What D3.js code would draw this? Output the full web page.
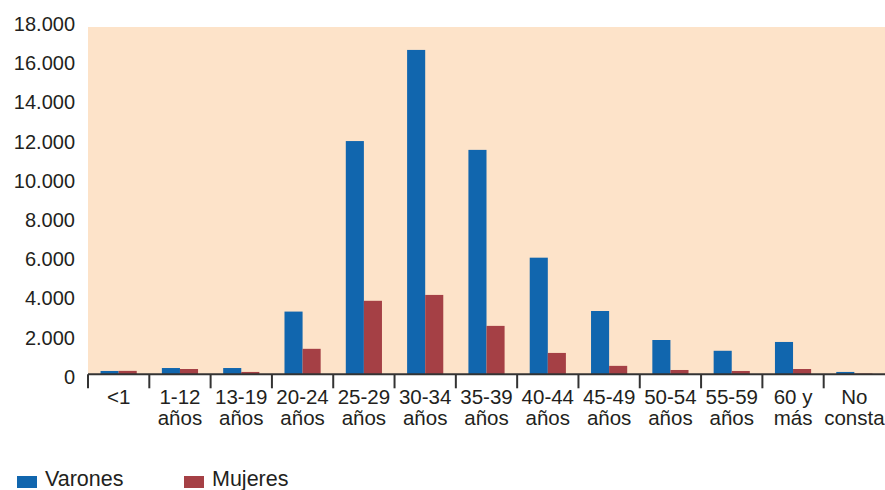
<!DOCTYPE html>
<html><head><meta charset="utf-8">
<script src="https://cdn.jsdelivr.net/npm/d3@7"></script>
<style>
body{margin:0;background:#fff;}
svg{display:block;}
</style></head>
<body>
<svg id="chart" width="885" height="490"></svg>
<script>
const categories = ["<1","1-12|años","13-19|años","20-24|años","25-29|años","30-34|años","35-39|años","40-44|años","45-49|años","50-54|años","55-59|años","60 y|más","No|consta"];
const varones = [170, 320, 320, 3200, 11900, 16550, 11450, 5950, 3230, 1750, 1200, 1650, 120];
const mujeres = [175, 270, 120, 1300, 3750, 4050, 2470, 1090, 430, 220, 170, 270, 40];
const seriesNames = ["Varones","Mujeres"];
const seriesColors = ["#1166ae","#a54045"];
const yTicks = [0,2000,4000,6000,8000,10000,12000,14000,16000,18000];

(function(){
const svg = d3.select("#chart");
const left = 88, right = 885, base = 374.3, yTop = 21.5;
const plotTop = 27;

const x = d3.scaleBand().domain(categories).range([left, right]).paddingInner(0.41).paddingOuter(0.205);
const xb = d3.scaleBand().domain(categories).range([left, right]);
const xs = d3.scaleBand().domain(seriesNames).range([0, x.bandwidth()]);
const y = d3.scaleLinear().domain([0, 18000]).range([base, yTop]);

// background
svg.append("rect").attr("x", left).attr("y", plotTop).attr("width", right - left).attr("height", base - plotTop).attr("fill", "#fde3c9");

// bars
const data = [varones, mujeres];
data.forEach((vals, si) => {
  svg.append("g").selectAll("rect").data(vals).join("rect")
    .attr("x", (d, i) => x(categories[i]) + xs(seriesNames[si]))
    .attr("width", xs.bandwidth())
    .attr("y", d => y(d))
    .attr("height", d => base - y(d))
    .attr("fill", seriesColors[si]);
});

// y axis labels
const fmt = d => d3.format(",")(d).replace(/,/g, ".");
svg.append("g").selectAll("text").data(yTicks).join("text")
  .attr("x", 75).attr("y", d => y(d) + 2.4)
  .attr("text-anchor", "end").attr("dominant-baseline", "central")
  .attr("font-family", "Liberation Sans, Arial, sans-serif").attr("font-size", 20)
  .attr("fill", "#231f20").text(fmt);

// x axis
const xAxis = svg.append("g").attr("transform", `translate(0,${base})`)
  .call(d3.axisBottom(xb).tickSize(0).tickFormat(""));
xAxis.select(".domain").attr("stroke", "#333").attr("stroke-width", 2).attr("d", `M${left},0H${right}`);
xAxis.selectAll(".tick").remove();
svg.append("g").selectAll("line").data(categories).join("line")
  .attr("x1", d => xb(d)).attr("x2", d => xb(d))
  .attr("y1", base).attr("y2", base + 14)
  .attr("stroke", "#333").attr("stroke-width", 2);

const lab = svg.append("g").selectAll("text").data(categories).join("text")
  .attr("x", d => xb(d) + xb.bandwidth() / 2)
  .attr("text-anchor", "middle")
  .attr("font-family", "Liberation Sans Narrow, Arial Narrow, sans-serif")
  .attr("font-stretch", "condensed")
  .attr("font-size", 20.5).attr("fill", "#231f20");
lab.each(function(d) {
  const parts = d.split("|");
  const t = d3.select(this);
  parts.forEach((p, i) => {
    t.append("tspan").attr("x", xb(d) + xb.bandwidth() / 2).attr("y", 404 + i * 21).text(p);
  });
});

// legend
const legX = [17, 184];
seriesNames.forEach((n, i) => {
  svg.append("rect").attr("x", legX[i]).attr("y", 476).attr("width", 20).attr("height", 12).attr("fill", seriesColors[i]);
  svg.append("text").attr("x", legX[i] + 28).attr("y", 486)
    .attr("font-family", "Liberation Sans, Arial, sans-serif").attr("font-size", 21.5)
    .attr("fill", "#231f20").text(n);
});
})();
</script>
</body></html>
